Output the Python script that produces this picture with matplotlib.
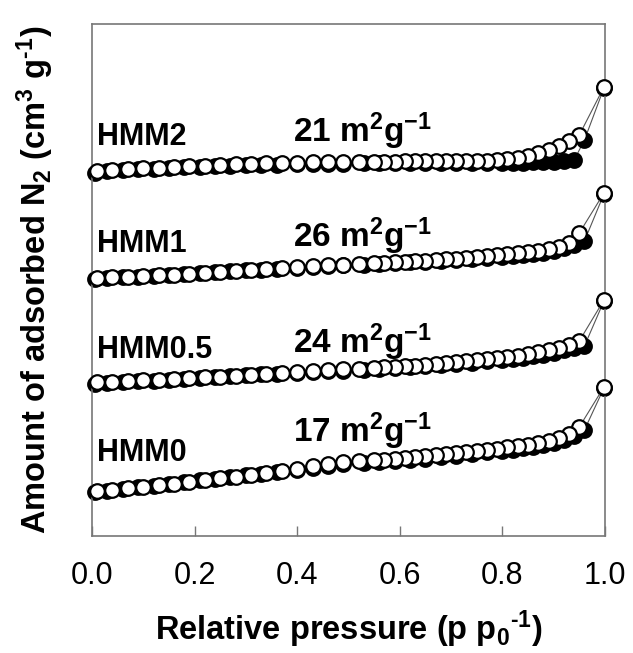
import matplotlib
matplotlib.use("Agg")
import matplotlib.pyplot as plt

plt.rcParams['font.family'] = ['Liberation Sans', 'DejaVu Sans']
plt.rcParams['mathtext.default'] = 'regular'

# relative pressure grids (adsorption = filled, desorption = open)
ads_x = [0.005, 0.03, 0.06, 0.09, 0.12, 0.15, 0.18, 0.21, 0.24, 0.27, 0.30, 0.33,
         0.36, 0.40, 0.43, 0.46, 0.49, 0.53, 0.56, 0.59, 0.62, 0.65, 0.68, 0.71,
         0.74, 0.77, 0.80, 0.82, 0.84, 0.86, 0.88, 0.90, 0.92, 0.94, 0.96, 0.998]
des_x = [0.998, 0.95, 0.93, 0.91, 0.89, 0.87, 0.85, 0.83, 0.81, 0.79, 0.77, 0.75,
         0.73, 0.71, 0.69, 0.67, 0.65, 0.63, 0.61, 0.59, 0.57, 0.55, 0.52, 0.49,
         0.46, 0.43, 0.40, 0.37, 0.34, 0.31, 0.28, 0.25, 0.22, 0.19, 0.16, 0.13,
         0.10, 0.07, 0.04, 0.01]

# amount adsorbed (arbitrary units, curves stacked with offsets)
hmm0_ads = [45, 46, 48, 50, 51, 53, 55, 57, 58, 60, 62, 63, 65, 67, 69, 71, 73, 74,
            75, 76, 77, 78, 80, 81, 83, 85, 86, 87, 89, 90, 92, 94, 97, 101, 107, 149]
hmm0_des = [150, 110, 103, 99, 96, 94, 92, 91, 90, 88, 87, 86, 85, 84, 83, 82, 81, 80,
            79, 78, 77, 77, 76, 75, 73, 71, 68, 66, 64, 62, 60, 59, 57, 55, 53, 52,
            50, 49, 47, 46]
hmm05_ads = [153, 154, 155, 156, 156, 157, 158, 159, 160, 161, 162, 163, 163, 164,
             165, 166, 166, 167, 168, 169, 170, 171, 172, 173, 174, 176, 177, 178,
             179, 181, 182, 184, 187, 189, 191, 236]
hmm05_des = [237, 196, 192, 189, 187, 185, 183, 181, 180, 179, 178, 177, 176, 175,
             174, 173, 172, 171, 171, 170, 170, 169, 168, 168, 167, 166, 165, 164,
             163, 162, 161, 160, 160, 159, 158, 157, 157, 156, 155, 155]
hmm1_ads = [258, 259, 260, 260, 261, 262, 263, 264, 265, 266, 267, 267, 268, 269,
            270, 271, 272, 272, 273, 274, 275, 275, 276, 277, 278, 279, 280, 281,
            282, 283, 284, 286, 289, 292, 296, 343]
hmm1_des = [344, 304, 294, 290, 288, 286, 285, 284, 283, 282, 281, 280, 279, 278,
            278, 277, 276, 276, 275, 275, 274, 274, 273, 272, 272, 271, 270, 269,
            268, 267, 266, 265, 264, 263, 262, 262, 261, 260, 260, 259]
hmm2_ads = [364, 366, 367, 368, 368, 369, 370, 370, 371, 371, 372, 372, 372, 373,
            373, 373, 373, 374, 374, 374, 374, 374, 374, 374, 374, 374, 374, 374,
            374, 375, 375, 375, 376, 377, 397, 449]
hmm2_des = [450, 402, 396, 391, 387, 384, 381, 379, 378, 377, 376, 376, 376, 376,
            376, 376, 376, 376, 376, 375, 375, 375, 375, 375, 375, 375, 374, 374,
            374, 373, 373, 372, 371, 371, 370, 369, 369, 368, 367, 366]

samples = ['HMM0', 'HMM0.5', 'HMM1', 'HMM2']
areas = ['17', '24', '26', '21']
ads_all = [hmm0_ads, hmm05_ads, hmm1_ads, hmm2_ads]
des_all = [hmm0_des, hmm05_des, hmm1_des, hmm2_des]
name_y = [84, 187, 293, 400]
area_y = [106, 195, 301, 406]

fig = plt.figure(figsize=(6.33, 6.53), dpi=100)
ax = fig.add_axes([0.1453, 0.1792, 0.8104, 0.784])

for ads, des in zip(ads_all, des_all):
    ax.plot(ads_x, ads, '-o', color='#555555', lw=0.8, ms=10.5,
            mfc='black', mec='black', mew=1.6, clip_on=False, zorder=2)
    ax.plot(des_x, des, '-o', color='#555555', lw=0.8, ms=10.5,
            mfc='white', mec='black', mew=1.6, clip_on=False, zorder=3)

for name, area, ny, ay in zip(samples, areas, name_y, area_y):
    ax.text(0.01, ny, name, fontsize=22, fontweight='bold', va='center', ha='left')
    ax.text(0.528, ay, area + r' m$^2$g$^{-1}$', fontsize=24, fontweight='bold',
            va='center', ha='center')

ax.set_xlim(0, 1)
ax.set_ylim(1, 513)
ax.set_yticks([])
ax.set_xticks([0.0, 0.2, 0.4, 0.6, 0.8, 1.0])
ax.set_xticklabels(['0.0', '0.2', '0.4', '0.6', '0.8', '1.0'])
ax.tick_params(axis='x', direction='in', length=7, width=1, color='#777777',
               labelsize=22, pad=18)
for sp in ax.spines.values():
    sp.set_color('#777777')
    sp.set_linewidth(1.2)

ax.set_xlabel('Relative pressure (p p$_0$$^{\u20101}$)', fontsize=23.5,
              fontweight='bold')
ax.set_ylabel('Amount of adsorbed N$_2$ (cm$^3$ g$^{\u20101}$)', fontsize=23.5,
              fontweight='bold')
ax.xaxis.set_label_coords(0.5, -0.141)
ax.yaxis.set_label_coords(-0.070, 0.5)

plt.savefig('out.png', dpi=100)
